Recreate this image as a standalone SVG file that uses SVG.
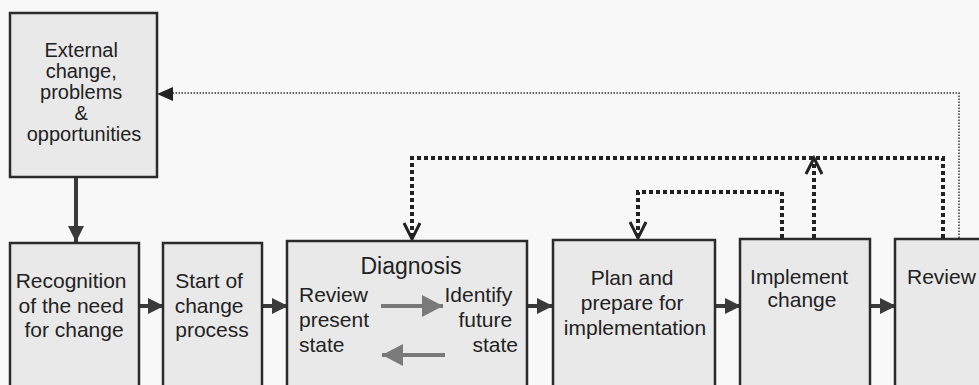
<svg xmlns="http://www.w3.org/2000/svg" width="979" height="385" viewBox="0 0 979 385">
  <defs>
    <style>
      .box { fill: #e9e9e9; stroke: #2b2b2b; stroke-width: 2.5; }
      .lbl { font-family: "Liberation Sans", Arial, sans-serif; font-size: 21px; fill: #222; }
      .lbl-s { font-family: "Liberation Sans", Arial, sans-serif; font-size: 20px; fill: #222; }
      .title { font-family: "Liberation Sans", Arial, sans-serif; font-size: 23px; fill: #222; }
      .flow { stroke: #3a3a3a; stroke-width: 4; fill: none; }
      .loop { stroke: #222; stroke-width: 4; fill: none; stroke-dasharray: 4 3; }
      .loop-thin { stroke: #333; stroke-width: 1.5; fill: none; stroke-dasharray: 1.5 1.5; }
      .vhead { stroke: #222; stroke-width: 3; fill: none; stroke-linejoin: miter; }
      .inner { stroke: #787878; stroke-width: 4; fill: none; }
    </style>
    <marker id="solidHead" markerUnits="userSpaceOnUse" markerWidth="16" markerHeight="16" refX="16" refY="8" orient="auto">
      <path d="M0,0 L16,8 L0,16 Z" fill="#3a3a3a"/>
    </marker>
    <marker id="grayHead" markerUnits="userSpaceOnUse" markerWidth="22" markerHeight="22" refX="21" refY="11" orient="auto">
      <path d="M0,0 L21,11 L0,22 Z" fill="#7a7a7a"/>
    </marker>
  </defs>

  <rect x="0" y="0" width="979" height="385" fill="#f8f8f8"/>

  <!-- connectors -->
  <g id="connectors">
    <!-- main sequence -->
    <line class="flow" x1="76" y1="177" x2="76" y2="242" marker-end="url(#solidHead)"/>
    <line class="flow" x1="139" y1="306" x2="164" y2="306" marker-end="url(#solidHead)"/>
    <line class="flow" x1="262" y1="306" x2="288" y2="306" marker-end="url(#solidHead)"/>
    <line class="flow" x1="527" y1="306" x2="553" y2="306" marker-end="url(#solidHead)"/>
    <line class="flow" x1="715" y1="306" x2="741" y2="306" marker-end="url(#solidHead)"/>
    <line class="flow" x1="870" y1="306" x2="896" y2="306" marker-end="url(#solidHead)"/>

    <!-- feedback loops -->
    <polyline class="loop" points="782,238 782,192 638,192 638,236"/>
    <polyline class="vhead" points="630,222 638,238 646,222"/>

    <polyline class="loop" points="943,238 943,158 412,158 412,237"/>
    <polyline class="vhead" points="404,223 412,239 420,223"/>

    <line class="loop" x1="814" y1="238" x2="814" y2="161"/>
    <polyline class="vhead" points="806,174 814,158 822,174"/>

    <polyline class="loop-thin" points="959,238 959,93 172,93"/>
    <path d="M173,87 L157,94 L173,101 Z" fill="#222"/>
  </g>

  <g id="external">
    <rect class="box" x="10" y="13" width="147" height="164"/>
    <text class="lbl-s" text-anchor="middle">
      <tspan x="84" y="57">External</tspan>
      <tspan x="84" y="78">change,</tspan>
      <tspan x="84" y="99">problems</tspan>
      <tspan x="84" y="120">&amp;</tspan>
      <tspan x="84" y="141">opportunities</tspan>
    </text>
  </g>

  <g id="recognition">
    <rect class="box" x="10" y="243" width="129" height="160"/>
    <text class="lbl" text-anchor="middle">
      <tspan x="74" y="288">Recognition</tspan>
      <tspan x="74" y="313">of the need</tspan>
      <tspan x="74" y="337">for change</tspan>
    </text>
  </g>

  <g id="start">
    <rect class="box" x="163" y="243" width="99" height="160"/>
    <text class="lbl" text-anchor="middle">
      <tspan x="212" y="288">Start of</tspan>
      <tspan x="212" y="313">change</tspan>
      <tspan x="212" y="337">process</tspan>
    </text>
  </g>

  <g id="diagnosis">
    <rect class="box" x="287" y="241" width="240" height="162"/>
    <text class="title" x="411" y="274" text-anchor="middle">Diagnosis</text>
    <text class="lbl">
      <tspan x="299" y="302">Review</tspan>
      <tspan x="299" y="327">present</tspan>
      <tspan x="299" y="352">state</tspan>
    </text>
    <text class="lbl" text-anchor="end">
      <tspan x="518" y="302">Identify</tspan>
      <tspan x="518" y="327">future</tspan>
      <tspan x="518" y="352">state</tspan>
    </text>
    <line class="inner" x1="381" y1="306" x2="443" y2="306" marker-end="url(#grayHead)"/>
    <line class="inner" x1="445" y1="355" x2="382" y2="355" marker-end="url(#grayHead)"/>
  </g>

  <g id="plan">
    <rect class="box" x="553" y="240" width="162" height="163"/>
    <text class="lbl" text-anchor="middle">
      <tspan x="635" y="285">Plan and</tspan>
      <tspan x="635" y="310">prepare for</tspan>
      <tspan x="635" y="335">implementation</tspan>
    </text>
  </g>

  <g id="implement">
    <rect class="box" x="740" y="239" width="130" height="164"/>
    <text class="lbl" text-anchor="middle">
      <tspan x="802" y="284">Implement</tspan>
      <tspan x="802" y="307">change</tspan>
    </text>
  </g>

  <g id="review">
    <rect class="box" x="895" y="239" width="100" height="164"/>
    <text class="lbl" x="907" y="284">Review</text>
  </g>
</svg>
